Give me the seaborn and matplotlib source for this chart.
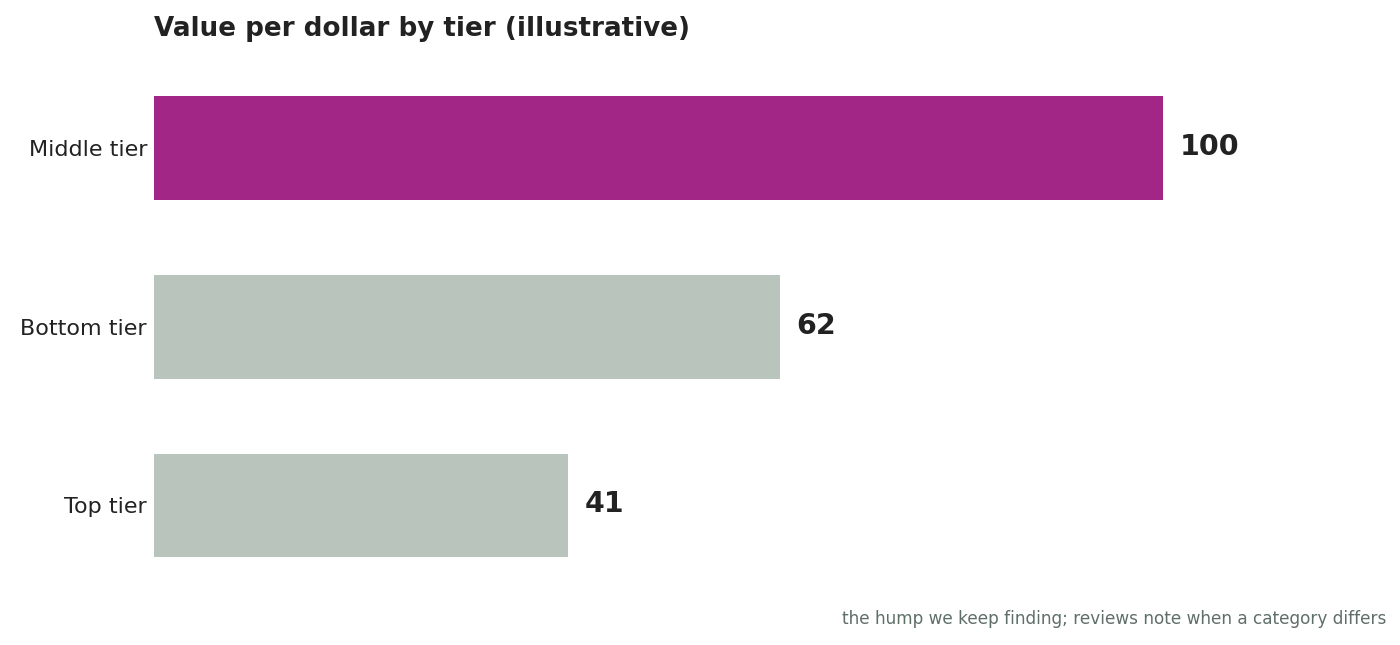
import pandas as pd
import numpy as np
import matplotlib.pyplot as plt
import seaborn as sns

tiers = ["Middle tier", "Bottom tier", "Top tier"]
values = [100, 62, 41]
highlight = "Middle tier"

df = pd.DataFrame({"Tier": tiers, "Value": values})

sns.set_theme(style="white")
plt.rcParams["font.family"] = ["DejaVu Sans"]

colors = {t: ("#A12686" if t == highlight else "#B9C4BD") for t in tiers}

fig = plt.figure(figsize=(14, 6.45), dpi=100)
ax = fig.add_axes([0.11, 0.078, 0.88, 0.831])

sns.barplot(
    data=df,
    x="Value",
    y="Tier",
    hue="Tier",
    palette=colors,
    order=tiers,
    width=0.58,
    saturation=1,
    linewidth=0,
    legend=False,
    ax=ax
)

ax.set_xlim(0, 122.1)
ax.set_ylim(2.5, -0.5)
ax.set_xlabel("")
ax.set_ylabel("")
ax.set_xticks([])
ax.tick_params(axis="y", length=0, pad=5, labelsize=16, labelcolor="#222222")
sns.despine(ax=ax, left=True, bottom=True)

for i, v in enumerate(values):
    ax.text(v + 1.7, i - 0.005, str(v), va="center", ha="left",
            fontsize=20.5, fontweight="bold", color="#222222")

fig.text(0.11, 0.955, "Value per dollar by tier (illustrative)",
         fontsize=18.8, fontweight="bold", color="#222222", va="center", ha="left")
fig.text(0.99, 0.04, "the hump we keep finding; reviews note when a category differs",
         fontsize=12.2, color="#5F6F68", va="center", ha="right")

fig.savefig("out.png", dpi=100)
